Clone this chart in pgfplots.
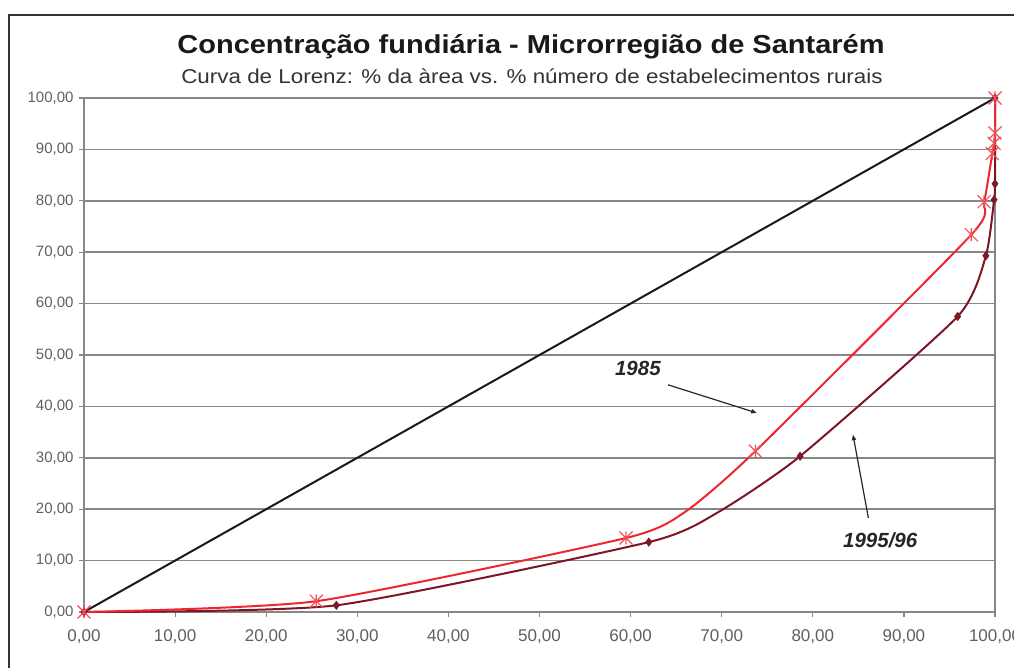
\documentclass[border=0pt]{standalone}
\usepackage{pgfplots}
\pgfplotsset{compat=1.18}
\usepackage{fontspec}
\setmainfont{Liberation Sans}
\usetikzlibrary{arrows.meta}
\definecolor{redA}{RGB}{238,38,48}
\definecolor{redB}{RGB}{125,22,38}
\definecolor{gridc}{RGB}{135,135,135}
\definecolor{tickc}{RGB}{95,95,95}
\pgfdeclareplotmark{xstar}{%
  \pgfpathmoveto{\pgfqpoint{-\pgfplotmarksize}{-\pgfplotmarksize}}%
  \pgfpathlineto{\pgfqpoint{\pgfplotmarksize}{\pgfplotmarksize}}%
  \pgfpathmoveto{\pgfqpoint{-\pgfplotmarksize}{\pgfplotmarksize}}%
  \pgfpathlineto{\pgfqpoint{\pgfplotmarksize}{-\pgfplotmarksize}}%
  \pgfpathmoveto{\pgfqpoint{0pt}{-\pgfplotmarksize}}%
  \pgfpathlineto{\pgfqpoint{0pt}{\pgfplotmarksize}}%
  \pgfusepathqstroke}
\begin{document}
\begin{tikzpicture}[x=1pt,y=1pt]
\path[use as bounding box] (0,0) rectangle (1014,668);
\draw[line width=2pt, black!80] (9,-2) -- (9,653) -- (1016,653);
\node[anchor=base, text=black!90] at (531,614.5) {\scalebox{1.115}[1]{\fontsize{26}{30}\selectfont\bfseries Concentração fundiária - Microrregião de Santarém}};
\node[anchor=base, text=black!80] at (532,584) {\scalebox{1.12}[1]{\fontsize{20}{24}\selectfont Curva de Lorenz: \% da àrea vs. \% número de estabelecimentos rurais}};
\begin{axis}[
  at={(84pt,56pt)}, anchor=south west,
  scale only axis, width=911pt, height=514pt,
  xmin=0, xmax=100, ymin=0, ymax=100,
  xtick={0,10,...,100}, ytick={0,10,...,100},
  tick align=outside, tick pos=left,
  major tick length=5pt,
  every tick/.style={gridc, line width=1.2pt},
  axis line style={gridc, line width=1.5pt},
  ymajorgrids, grid style={gridc, line width=1.5pt},
  ticklabel style={text=tickc},
  /pgf/number format/.cd, fixed, fixed zerofill, precision=2, use comma, assume math mode=true,
  /pgfplots/.cd,
  xticklabel style={yshift=-9pt, font=\fontsize{17}{20}\selectfont},
  yticklabel style={xshift=-2pt, font=\fontsize{15}{18}\selectfont},
  clip=false,
]
\addplot[black!90, line width=2pt, mark=none] coordinates {(0,0) (100,100)};
\addplot[redB, line width=2pt, smooth, tension=0.35, mark=diamond*, mark size=4.2pt,
  mark options={fill=redB, draw=redB, line width=0.5pt},
  mark indices={1,2,3,5,6,7,8,9,10}] coordinates {
  (0,0) (27.7,1.3) (62.0,13.6) (69.5,19.3) (78.6,30.3) (95.9,57.5) (99.0,69.3) (99.9,80.2) (100,83.3) (100,100)};
\addplot[redA, line width=2pt, smooth, tension=0.35, mark=xstar, mark size=6.5pt,
  mark options={draw=redA!80!white, line width=1.2pt},
  mark indices={1,2,3,5,6,7,8,9,10,11}] coordinates {
  (0,0) (25.5,2.1) (59.5,14.4) (66.0,19.5) (73.7,31.3) (97.4,73.4) (98.8,79.8) (99.7,89.2) (99.9,91.2) (100,93.2) (100,100)};
\node[font=\fontsize{20.5}{24}\selectfont\bfseries\itshape, text=black!85] at (axis cs:60.8,47.3) {1985};
\draw[black!85, line width=1.2pt, -{Latex[length=6pt,width=5pt]}] (axis cs:64.1,44.2) -- (axis cs:73.9,38.7);
\node[font=\fontsize{20.5}{24}\selectfont\bfseries\itshape, text=black!85] at (axis cs:87.4,14.0) {1995/96};
\draw[black!85, line width=1.2pt, -{Latex[length=6pt,width=5pt]}] (axis cs:86.1,18.3) -- (axis cs:84.4,34.6);
\end{axis}
\end{tikzpicture}
\end{document}
